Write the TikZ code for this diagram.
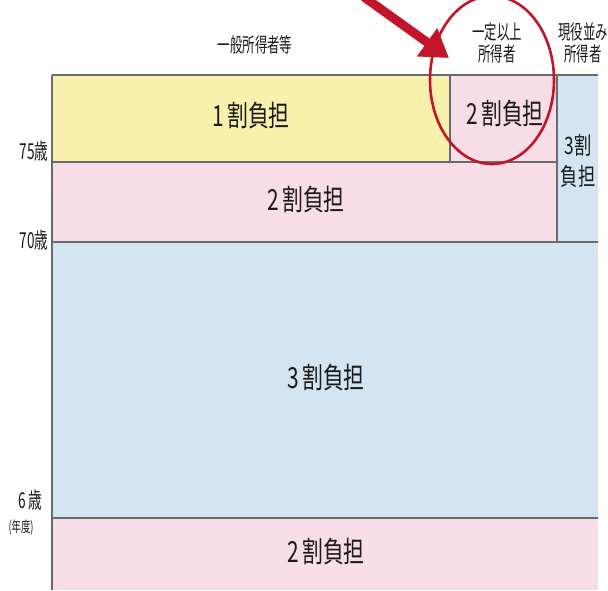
\documentclass[tikz,border=0pt]{standalone}
\usepackage{fontspec}
\setmainfont{Noto Sans CJK JP}
\usetikzlibrary{arrows.meta,shapes.geometric}
\definecolor{cYel}{HTML}{F8F1AE}
\definecolor{cPink}{HTML}{F6DDE6}
\definecolor{cBlue}{HTML}{D2E5F1}
\definecolor{cLine}{HTML}{6A6A6A}
\definecolor{cRed}{HTML}{C3142B}
\definecolor{cTxt}{HTML}{1A1A1A}
\newcommand{\cnd}[2][0.72]{\scalebox{#1}[1]{#2}}
\tikzset{
  sep/.style={draw=cLine,line width=1.2pt},
  big/.style={text=cTxt,font=\fontsize{29}{31}\selectfont,inner sep=0pt},
  head/.style={text=cTxt,font=\fontsize{20}{22}\selectfont,inner sep=0pt,align=center},
  age/.style={text=cTxt,font=\fontsize{22}{24}\selectfont,inner sep=0pt},
}
\begin{document}
\begin{tikzpicture}[x=1pt,y=-1pt]
\useasboundingbox (0,0) rectangle (608,590);
\fill[white] (0,0) rectangle (608,590);
% cells
\fill[cYel]  (52,75) rectangle (450,162);
\fill[cPink] (450,75) rectangle (557,162);
\fill[cPink] (52,162) rectangle (557,242);
\fill[cBlue] (557,75) rectangle (598,242);
\fill[cBlue] (52,242) rectangle (598,518);
\fill[cPink] (52,518) rectangle (598,590);
% lines
\draw[sep] (52,75) -- (598,75);
\draw[sep] (52,162) -- (557,162);
\draw[sep] (52,242) -- (598,242);
\draw[sep] (52,518) -- (598,518);
\draw[sep] (450,75) -- (450,162);
\draw[sep] (557,75) -- (557,242);
\draw[sep] (52,75) -- (52,590);
% headers
\node[head] (h1) at (255,45) {\cnd[0.62]{一般所得者等}};
\node[head] (h2) at (497,32) {\cnd[0.62]{一定以上}};
\node[head] (h3) at (497,54) {\cnd[0.62]{所得者}};
\node[head] (h4) at (583,32) {\cnd[0.62]{現役並み}};
\node[head] (h5) at (583,54) {\cnd[0.62]{所得者}};
% cell texts
\node[big] (t1) at (251,116) {\cnd{1\,割負担}};
\node[big] (t2) at (505,114) {\cnd{2\,割負担}};
\node[big] (t3) at (306,200) {\cnd{2\,割負担}};
\node[big,font=\fontsize{24}{26}\selectfont] (t4a) at (578,145) {\cnd{3割}};
\node[big,font=\fontsize{24}{26}\selectfont] (t4b) at (578,176) {\cnd{負担}};
\node[big] (t5) at (326,378) {\cnd{3\,割負担}};
\node[big] (t6) at (326,552) {\cnd{2\,割負担}};
% ages
\node[age] (a75) at (34,151) {\cnd[0.62]{75歳}};
\node[age] (a70) at (34,240) {\cnd[0.62]{70歳}};
\node[age] (a6) at (30,500) {\cnd[0.62]{6\,歳}};
\node[age,font=\fontsize{15}{17}\selectfont] (a6b) at (21,528) {\cnd[0.62]{(年度)}};
% red highlight
\node[draw=cRed,line width=2.6pt,ellipse,minimum width=124pt,minimum height=168pt,inner sep=0pt] (circ) at (492,80) {};
\coordinate (arrS) at (364,-3);
\coordinate (arrE) at (449,58);
\draw[cRed,line width=9pt,-{Triangle[length=27pt,width=33pt]}] (arrS) -- (arrE);
\end{tikzpicture}
\end{document}
